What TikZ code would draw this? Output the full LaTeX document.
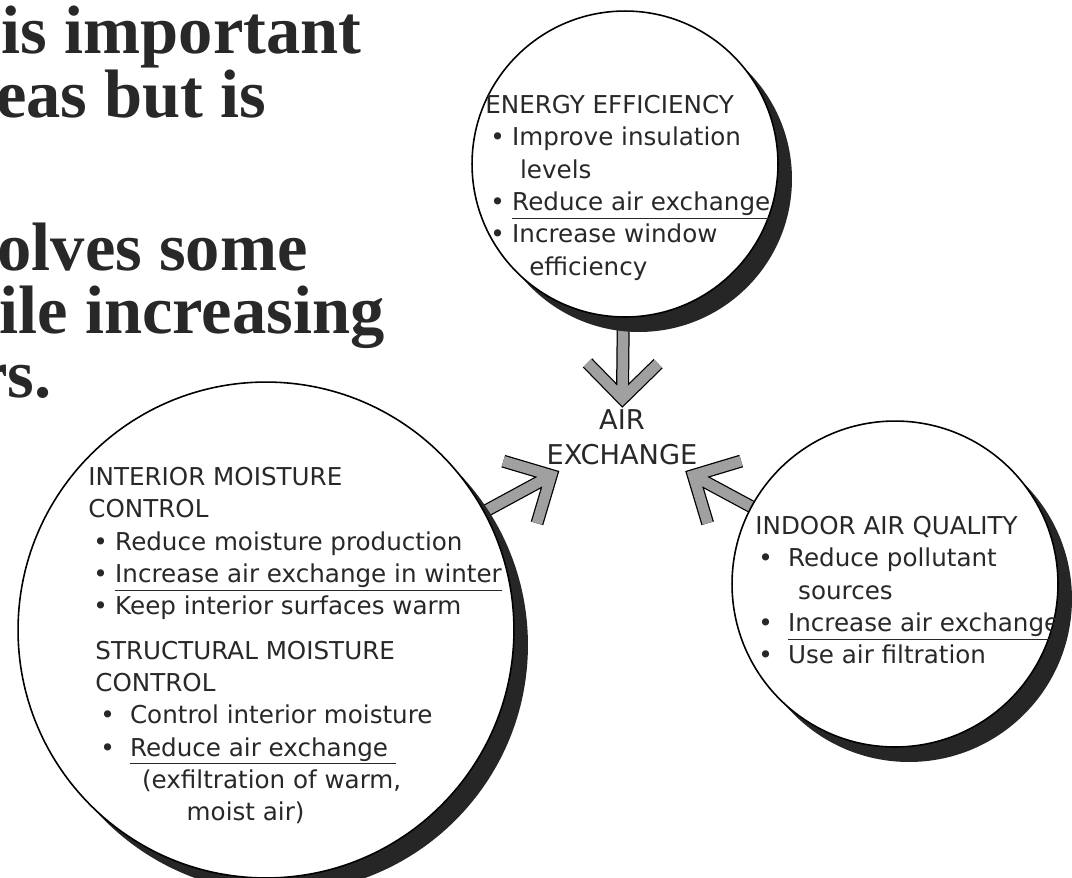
\documentclass[tikz,border=0pt]{standalone}
\usepackage{fontspec}
\setmainfont{Liberation Serif}
\newfontfamily\handfont{DejaVu Sans}
\usetikzlibrary{calc,shadows,backgrounds}
\definecolor{ink}{RGB}{40,40,40}
\definecolor{shade}{RGB}{38,38,38}
\definecolor{hatch}{RGB}{160,160,160}
\newcommand{\bul}[1][2.8pt]{\hspace*{#1}\makebox[12.5pt][l]{\textbullet}}

\begin{document}
\begin{tikzpicture}[x=0.02cm, y=-0.02cm,
    bubble/.style={circle, draw=black, line width=0.9pt, fill=white, inner sep=0pt,
      drop shadow={shadow xshift=0.28cm, shadow yshift=-0.3cm, fill=shade, opacity=1}},
    bubbletext/.style={anchor=north west, align=left, inner sep=0pt, text=ink,
      font=\handfont\fontsize{14}{18.4}\selectfont},
    slide/.style={anchor=base east, inner sep=0pt, text=ink,
      font=\bfseries\fontsize{39}{47}\selectfont},
    shaftedge/.style={line width=0.26cm, draw=black, line join=miter},
    shaftfill/.style={line width=0.21cm, draw=hatch, line join=miter}]
  \useasboundingbox (0,0) rectangle (1072,877);

  % slide text, cut off at the left edge
  \node[slide] (line1) at (362,53) {is important};
  \node[slide] (line2) at (267,117) {eas but is};
  \node[slide] (line3) at (308,270) {olves some};
  \node[slide] (line4) at (385,333) {ile increasing};
  \node[slide] (line5) at (52,397) {rs.};

  % the three circles
  \node[bubble, minimum size=6.12cm] (energy) at (625,164) {};
  \node[bubble, minimum size=9.92cm] (moisture) at (266,630) {};
  \node[bubble, minimum size=6.52cm] (quality) at (895,584) {};

  % centre label
  \node[align=center, text=ink, inner xsep=2pt, inner ysep=6pt,
        font=\handfont\fontsize{15.5}{19.8}\selectfont] (exchange) at (622,437)
        {AIR\\EXCHANGE};

  % circle texts
  \node[bubbletext] (energytext) at (485,95) {ENERGY EFFICIENCY\\
    \bul Improve insulation\\
    \hspace*{19.8pt}levels\\
    \bul \underline{Reduce air exchange}\\
    \bul Increase window\\
    \hspace*{25pt}efficiency};
  \node[bubbletext] (moisturetext) at (88,467) {INTERIOR MOISTURE\\
    CONTROL\\
    \bul Reduce moisture production\\
    \bul \underline{Increase air exchange in winter}\\
    \bul Keep interior surfaces warm\\[6.8pt]
    \hspace*{4pt}STRUCTURAL MOISTURE\\
    \hspace*{4pt}CONTROL\\
    \bul[6.8pt] Control interior moisture\\
    \bul[6.8pt] \underline{Reduce air exchange\ }\\
    \hspace*{30.6pt}(exfiltration of warm,\\
    \hspace*{56pt}moist air)};
  \node[bubbletext] (qualitytext) at (755,516) {INDOOR AIR QUALITY\\
    \bul[1.7pt] Reduce pollutant\\
    \hspace*{24.4pt}sources\\
    \bul[1.7pt] \underline{Increase air exchange}\\
    \bul[1.7pt] Use air filtration};

  % hatched arrows, behind the circles
  \begin{scope}[on background layer]
    \fill[white] (0,0) rectangle (1072,877);
    \foreach \src in {energy,moisture,quality} {
      \path (\src) -- (exchange) coordinate[pos=0] (\src-tail) coordinate[pos=1] (\src-tip);
      \draw[shaftedge] (\src-tail) -- (\src-tip)
        ($(\src-tip)!1cm!45:(\src-tail)$) -- (\src-tip) -- ($(\src-tip)!1cm!-45:(\src-tail)$);
      \draw[shaftfill] (\src-tail) -- (\src-tip)
        ($(\src-tip)!1cm!45:(\src-tail)$) -- (\src-tip) -- ($(\src-tip)!1cm!-45:(\src-tail)$);
    }
  \end{scope}
\end{tikzpicture}
\end{document}
